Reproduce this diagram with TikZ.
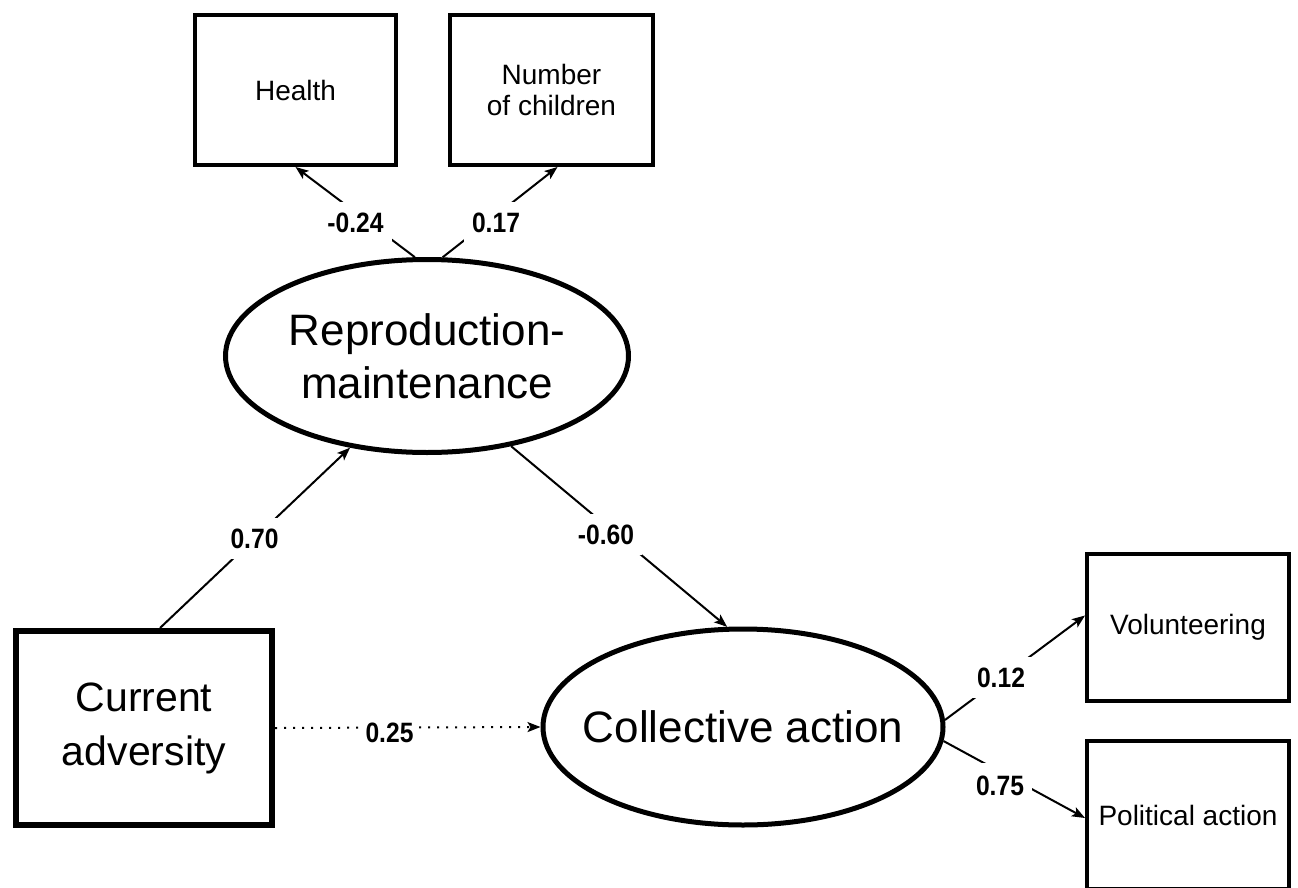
\documentclass[tikz,border=0pt]{standalone}
\usepackage{fontspec}
\setmainfont{Liberation Sans}
\newfontfamily\labfont[FakeStretch=0.88]{Liberation Sans}
\usetikzlibrary{shapes.geometric,arrows.meta}
\begin{document}
\begin{tikzpicture}[x=1pt,y=-1pt,
  obs/.style={draw, line width=4pt, rectangle, inner sep=0pt, align=center,
    font=\fontsize{28}{31}\selectfont},
  lat/.style={draw, line width=5pt, ellipse, inner sep=0pt},
  lattext/.style={align=center, font=\fontsize{44}{53}\selectfont},
  conn/.style={line width=2pt, -{Stealth[length=13pt,width=10pt,inset=3pt]}},
  lab/.style={fill=white, font=\labfont\bfseries\fontsize{28}{28}\selectfont, inner xsep=8pt, inner ysep=11pt}]
\useasboundingbox (0,0) rectangle (1298,888);
\clip (0,0) rectangle (1298,888);

% observed boxes
\node[obs, minimum width=201pt, minimum height=150pt] (health) at (295.5,90) {Health};
\node[obs, minimum width=203pt, minimum height=150pt] (number) at (551.5,90) {Number\\of children};
\node[obs, line width=6pt, minimum width=256pt, minimum height=194pt,
      font=\fontsize{41}{54}\selectfont] (cur) at (144,728) {Current\\adversity};
\node[obs, minimum width=202pt, minimum height=147pt] (vol) at (1188,627.5) {Volunteering};
\node[obs, minimum width=202pt, minimum height=148pt] (pol) at (1188,815) {Political action};

% latent ellipses
\node[lat, minimum width=403pt, minimum height=193pt,
      label={[lattext]center:Reproduction-\\maintenance}] (rep) at (427,356) {};
\node[lat, minimum width=400pt, minimum height=196pt,
      label={[lattext]center:Collective action}] (col) at (743,727) {};

% connectors
\draw[conn] (rep.97) -- (health.south);
\draw[conn] (rep.81) -- ([xshift=6pt]number.south);
\draw[conn] ([xshift=16pt]cur.north) -- (rep.-130);
\draw[conn] (rep.-47.5) -- (col.99);
\draw[conn, dash pattern=on 2pt off 7pt] (cur.east) -- (col.west);
\draw[conn] (col.2) -- ([yshift=12pt]vol.west);
\draw[conn] (col.-4) -- ([yshift=-3pt]pol.west);

% coefficient labels
\node[lab] (l1) at (355.5,223) {-0.24};
\node[lab] (l2) at (496,223) {0.17};
\node[lab] (l3) at (254.5,538.5) {0.70};
\node[lab] (l4) at (606,534.5) {-0.60};
\node[lab, inner ysep=6pt, inner xsep=3pt] (l5) at (389.5,733) {0.25};
\node[lab] (l6) at (1001,677.5) {0.12};
\node[lab, inner ysep=13pt] (l7) at (1000,785.5) {0.75};
\end{tikzpicture}
\end{document}
